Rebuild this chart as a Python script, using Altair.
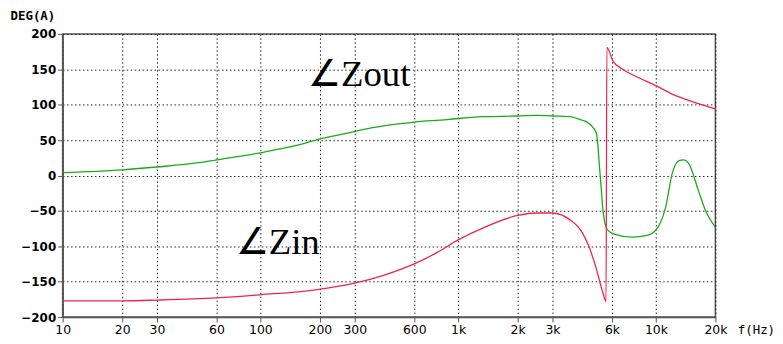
import altair as alt
import pandas as pd

# Zout phase (green)
zout_freq = [10, 20, 30, 48.7, 60, 100, 150, 203, 300, 334, 420, 600, 880, 1000, 1340, 2000, 2500,
             3000, 3650, 4250, 4450, 4800, 5000, 5100, 5170, 5300, 5400, 5500, 5600, 5800, 6060,
             7640, 8900, 10000, 11200, 12100, 13100, 13800, 14650, 16400, 17800, 20000]
zout_deg = [4, 8, 12, 18, 22, 32, 42, 52, 62, 65, 70, 75.5, 79, 80.5, 83, 84, 85,
            84, 83, 78, 76, 68, 60, 40, 17, -20, -49, -65, -73, -79, -82,
            -87, -85, -77, -45, 3, 21, 22, 17, -21, -49, -73]

# Zin phase (red)
zin_freq = [10, 20, 30, 60, 100, 190, 300, 420, 600, 780, 1000, 1340, 2000, 2500, 3000, 3650,
            4250, 4600, 5000, 5400, 5600, 5650, 6060, 6800, 8200, 10000, 12100, 14650, 20000]
zin_deg = [-177, -177, -176, -173, -168.5, -161.5, -152, -141, -125, -109, -91, -74, -56.5, -53, -53, -62,
           -81, -101, -132, -166, -178, 181, 162, 150, 138, 127, 115, 106, 94]

x_ticks = [10, 20, 30, 60, 100, 200, 300, 600, 1000, 2000, 3000, 6000, 10000, 20000]
y_ticks = [-200, -150, -100, -50, 0, 50, 100, 150, 200]

labels = ["∠Zout", "∠Zin"]
label_freq = [174, 75]
label_deg = [127, -111]

rows = [{"f": f, "deg": d, "s": "Zout"} for f, d in zip(zout_freq, zout_deg)]
rows += [{"f": f, "deg": d, "s": "Zin"} for f, d in zip(zin_freq, zin_deg)]
df = pd.DataFrame(rows)
lab = pd.DataFrame({"t": labels, "f": label_freq, "deg": label_deg})

xscale = alt.Scale(type="log", domain=[10, 20000], nice=False)
yscale = alt.Scale(domain=[-200, 200], nice=False)

xaxis = alt.Axis(values=x_ticks, title="f(Hz)", grid=True, gridColor="#222", gridDash=[1.5, 2.5],
                 gridWidth=1, labelExpr="datum.value >= 1000 ? (datum.value/1000) + 'k' : datum.value",
                 labelFont="DejaVu Sans", labelFontSize=12.5, labelColor="#000", labelFlush=False,
                 labelOverlap=False,
                 tickColor="#555", tickSize=5, domainColor="#555", domainWidth=1.5,
                 titleFont="DejaVu Sans Mono", titleFontSize=12.5, titleFontWeight="normal",
                 titleX=679, titleY=13, titleAlign="left", titleBaseline="middle", titleColor="#000")
yaxis = alt.Axis(values=y_ticks, title="DEG(A)", grid=True, gridColor="#222", gridDash=[1.5, 2.5],
                 gridWidth=1, labelFont="DejaVu Sans", labelFontSize=12, labelFontWeight="bold",
                 labelOverlap=False, labelFlush=False,
                 labelColor="#000", tickColor="#555", tickSize=5, domainColor="#555", domainWidth=1.5,
                 titleFont="DejaVu Sans Mono", titleFontSize=12.5, titleFontWeight="bold", titleAngle=0,
                 titleX=-53, titleY=-18, titleAlign="left", titleBaseline="middle", titleColor="#000")

lines = alt.Chart(df).mark_line(strokeWidth=1.3, interpolate="monotone", clip=True).encode(
    x=alt.X("f:Q", scale=xscale, axis=xaxis),
    y=alt.Y("deg:Q", scale=yscale, axis=yaxis),
    color=alt.Color("s:N", scale=alt.Scale(domain=["Zout", "Zin"], range=["#1aab1a", "#ee2450"]),
                    legend=None),
    detail="s:N",
)

texts = alt.Chart(lab).mark_text(font="Liberation Serif", fontSize=37, align="left",
                                 baseline="alphabetic", color="#000").encode(
    x=alt.X("f:Q", scale=xscale, axis=xaxis),
    y=alt.Y("deg:Q", scale=yscale, axis=yaxis),
    text="t:N",
)

chart = alt.layer(lines, texts).properties(
    width=657, height=285,
    autosize=alt.AutoSizeParams(type="none"),
    padding={"left": 55, "top": 25, "right": 60, "bottom": 18},
    background="white",
).configure_view(stroke="#555", strokeWidth=1.5).configure_axis(labelOverlap=False)

chart.save("out.html", embed_options={"renderer": "svg", "actions": False})
